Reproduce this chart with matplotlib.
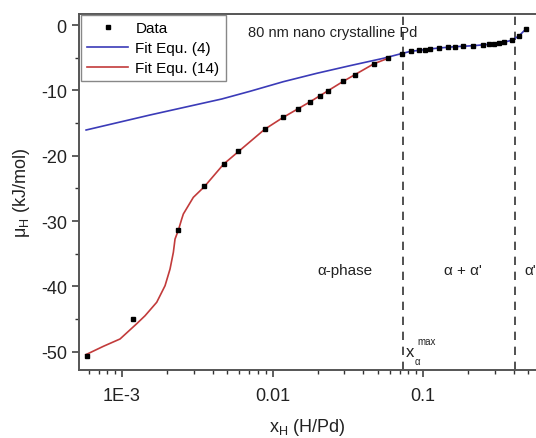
import matplotlib
matplotlib.use("Agg")
import matplotlib.pyplot as plt
from matplotlib.ticker import LogLocator, FixedLocator, NullFormatter, FixedFormatter

plt.rcParams['font.family'] = ['Liberation Sans', 'DejaVu Sans']
plt.rcParams['mathtext.fontset'] = 'custom'
plt.rcParams['mathtext.rm'] = 'Liberation Sans'
plt.rcParams['axes.unicode_minus'] = False

# ---- data ----
data_x = [5.88e-4, 1.18e-3, 2.37e-3, 3.52e-3, 4.74e-3, 5.90e-3, 8.87e-3, 0.0118,
          0.0148, 0.0177, 0.0206, 0.0234, 0.0295, 0.0355, 0.0472, 0.0585,
          0.0724, 0.0827, 0.0944, 0.1025, 0.111, 0.128, 0.146, 0.164, 0.185,
          0.216, 0.250, 0.275, 0.298, 0.319, 0.344, 0.390, 0.436, 0.483]
data_y = [-50.7, -45.0, -31.4, -24.7, -21.3, -19.3, -15.9, -14.1,
          -12.9, -11.8, -10.8, -10.1, -8.6, -7.6, -5.9, -5.07,
          -4.36, -4.0, -3.85, -3.75, -3.64, -3.49, -3.38, -3.29, -3.23,
          -3.14, -3.03, -2.93, -2.83, -2.72, -2.62, -2.3, -1.6, -0.58]

fit4_x = [5.77e-4, 1.535e-3, 4.60e-3, 7.09e-3, 0.0118, 0.01966, 0.0327, 0.0545,
          0.0703, 0.0827, 0.0944, 0.111, 0.128, 0.164, 0.216, 0.275, 0.344,
          0.390, 0.436, 0.483]
fit4_y = [-16.05, -13.75, -11.30, -10.12, -8.65, -7.37, -6.20, -5.07,
          -4.41, -4.0, -3.85, -3.64, -3.49, -3.29, -3.14, -2.93, -2.62,
          -2.3, -1.6, -0.58]

fit14_x = [5.74e-4, 7.52e-4, 9.70e-4, 1.252e-3, 1.422e-3, 1.700e-3, 1.931e-3,
           2.084e-3, 2.193e-3, 2.250e-3, 2.366e-3, 2.492e-3, 2.555e-3,
           2.977e-3, 3.523e-3, 4.739e-3, 8.87e-3, 0.0118, 0.01767, 0.02954,
           0.04724, 0.05853]
fit14_y = [-50.46, -49.17, -48.05, -45.71, -44.49, -42.43, -39.89,
           -37.34, -34.78, -32.74, -31.41, -29.68, -28.91,
           -26.36, -24.73, -21.26, -15.94, -14.10, -11.76, -8.59,
           -5.90, -5.07]

phase_bounds = [0.0739, 0.408]
xticks = [1e-3, 0.01, 0.1]
xticklabels = ['1E-3', '0.01', '0.1']
yticks = [-50, -40, -30, -20, -10, 0]
yminor = [-45, -35, -25, -15, -5]

W, H = 536, 439
fig = plt.figure(figsize=(W / 100, H / 100), dpi=100)
ax = fig.add_axes([79.3 / W, 1 - 371 / H, (536 - 79.3) / W, (371 - 14.7) / H])

blue = '#3b3bb8'
red = '#c23b3b'
ax.plot(fit4_x, fit4_y, color=blue, lw=1.2, label='Fit Equ. (4)', zorder=2)
ax.plot(fit14_x, fit14_y, color=red, lw=1.2, label='Fit Equ. (14)', zorder=2)
ax.plot(data_x, data_y, 's', color='black', ms=3.3, label='Data', zorder=3)

for xb in phase_bounds:
    ax.axvline(xb, color='#333333', lw=1.2, ls=(0, (5, 4)), zorder=1)

ax.set_xscale('log')
ax.set_xlim(5.2e-4, 0.5633)
ax.set_ylim(-52.8, 1.76)

ax.xaxis.set_major_locator(FixedLocator(xticks))
ax.xaxis.set_major_formatter(FixedFormatter(xticklabels))
ax.xaxis.set_minor_locator(LogLocator(base=10, subs=range(2, 10), numticks=20))
ax.xaxis.set_minor_formatter(NullFormatter())
ax.set_yticks(yticks)
ax.set_yticks(yminor, minor=True)

ax.tick_params(which='major', direction='out', length=5, width=1.1, labelsize=13,
               colors='#333333', labelcolor='#222222')
ax.tick_params(axis='x', which='major', pad=7)
ax.tick_params(axis='y', which='major', pad=4)
ax.tick_params(which='minor', direction='out', length=3, width=1.0, colors='#333333')
ax.tick_params(axis='x', which='both', top=False)
ax.tick_params(axis='y', which='both', right=False)

for s in ['left', 'bottom', 'top']:
    ax.spines[s].set_linewidth(1.4)
    ax.spines[s].set_color('#555555')
ax.spines['right'].set_visible(False)

ax.set_xlabel('x$_\\mathregular{H}$ (H/Pd)', fontsize=13, color='#222222', labelpad=9)
ax.set_ylabel('\u03bc$_\\mathregular{H}$ (kJ/mol)', fontsize=13, color='#222222', labelpad=6)


def px(xp, yp):
    return (xp / W, 1 - yp / H)


fig.text(*px(248, 33), '80 nm nano crystalline Pd', fontsize=10.5,
         va='center', ha='left', color='#222222')
fig.text(*px(345, 271), '\u03b1-phase', fontsize=11, ha='center', va='center', color='#222222')
fig.text(*px(463, 271), '\u03b1 + \u03b1\'', fontsize=11, ha='center', va='center', color='#222222')
fig.text(*px(524, 271), '\u03b1\'', fontsize=11, ha='left', va='center', color='#222222')
fig.text(*px(406, 353), 'x', fontsize=12, ha='left', va='center', color='#222222')
fig.text(*px(417, 342), 'max', fontsize=7, ha='left', va='center', color='#222222')
fig.text(*px(415, 362), '\u03b1', fontsize=7, ha='left', va='center', color='#222222')

handles, labels = ax.get_legend_handles_labels()
order = [2, 0, 1]
leg = ax.legend([handles[i] for i in order], [labels[i] for i in order],
                loc='upper left', bbox_to_anchor=(0.004, 0.997), borderaxespad=0,
                fontsize=11, frameon=True, fancybox=False, framealpha=1,
                edgecolor='#888888', handlelength=2.7, handletextpad=0.45,
                labelspacing=0.4, borderpad=0.4)
leg.get_frame().set_linewidth(1.0)

fig.savefig('out.png', dpi=100)
